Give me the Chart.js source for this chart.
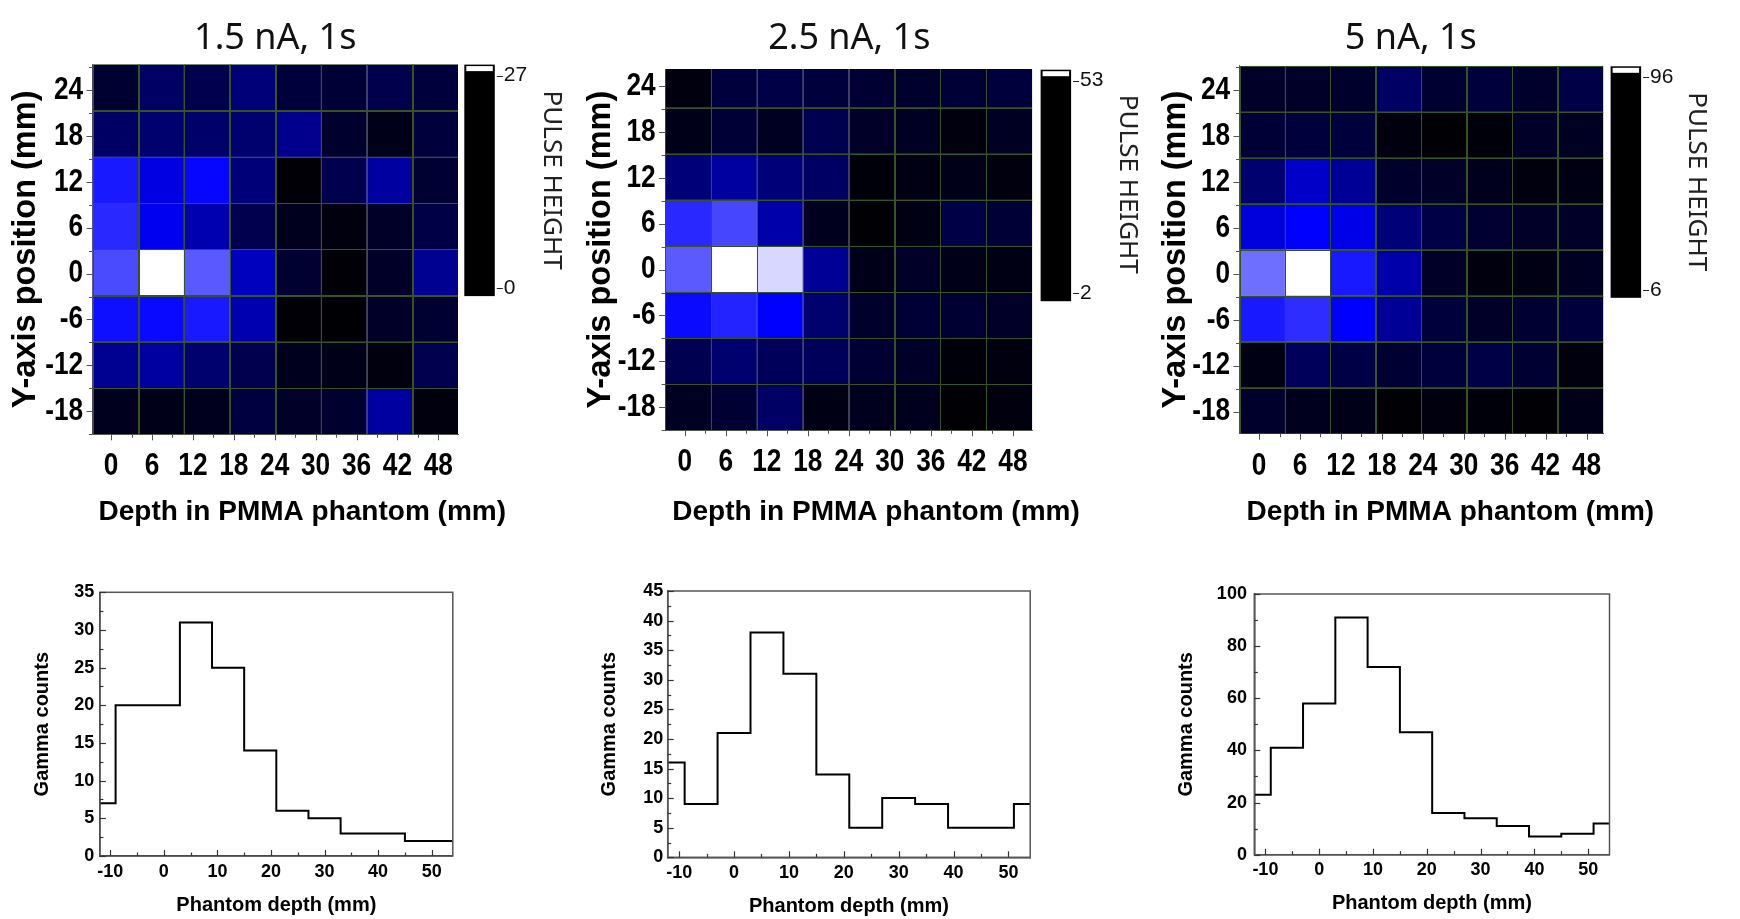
<!DOCTYPE html>
<html><head><meta charset="utf-8">
<script src="https://cdn.jsdelivr.net/npm/chart.js@4.4.1/dist/chart.umd.min.js"></script>
<style>
html,body{margin:0;padding:0;background:#fff;}
body{width:1740px;height:919px;position:relative;overflow:hidden;}
canvas{position:absolute;}
</style></head><body>
<canvas id="hm1" width="580" height="540" style="left:0;top:0"></canvas>
<canvas id="hm2" width="580" height="540" style="left:580px;top:0"></canvas>
<canvas id="hm3" width="580" height="540" style="left:1160px;top:0"></canvas>
<canvas id="h1" width="580" height="379" style="left:0;top:540px"></canvas>
<canvas id="h2" width="580" height="379" style="left:580px;top:540px"></canvas>
<canvas id="h3" width="580" height="379" style="left:1160px;top:540px"></canvas>
<script>
// ---------- data ----------
const heatTitles = ['1.5 nA, 1s', '2.5 nA, 1s', '5 nA, 1s'];
const depthTicks = [0, 6, 12, 18, 24, 30, 36, 42, 48];
const yPosTicks = [24, 18, 12, 6, 0, -6, -12, -18];

// pulse height maps, rows from y=24 (top) to y=-18 (bottom), columns along depth
const pulse15nA = [
  [2.6, 5.3, 4.2, 6.4, 3.2, 2.9, 4.0, 3.2],
  [5.3, 5.8, 5.6, 5.8, 7.4, 2.4, 1.3, 3.2],
  [14.8, 12.0, 13.8, 6.4, 0.3, 4.0, 8.5, 2.6],
  [15.6, 12.7, 9.3, 4.2, 1.6, 0.8, 2.1, 3.7],
  [17.4, 27.0, 18.2, 10.1, 2.6, 0.3, 2.1, 7.7],
  [14.3, 14.0, 14.8, 9.3, 0.3, 0.2, 2.1, 2.6],
  [7.7, 8.5, 5.8, 4.2, 1.6, 1.3, 0.8, 4.2],
  [1.6, 1.3, 1.6, 3.4, 2.1, 2.5, 8.5, 0.8]
];
const pulse25nA = [
  [3.5, 8, 9, 8, 7, 6.5, 7.5, 8],
  [4.5, 7.5, 5.5, 10, 6, 5.5, 3.5, 5.5],
  [14, 18, 14, 12, 3, 4, 4.5, 3.5],
  [31.5, 34.5, 19, 5, 2.5, 4, 9, 7.5],
  [36.5, 53, 49, 17, 4.5, 6, 4.5, 4],
  [28.5, 31, 27.5, 13, 6.5, 7.5, 7, 6],
  [10, 13, 11, 11, 7, 6, 3, 3.5],
  [5.5, 7, 12, 4, 5, 5, 2.5, 3.5]
];
const pulse5nA = [
  [13.1, 13.1, 13.9, 23.6, 14.8, 16.6, 13.9, 18.4],
  [15.7, 16.6, 16.6, 8.6, 6.9, 7.8, 13.1, 12.2],
  [25.4, 41.3, 32.5, 13.9, 13.1, 11.3, 8.6, 9.5],
  [44.8, 51, 46.6, 27.2, 18.4, 14.8, 13.1, 13.1],
  [70.4, 96, 55.4, 36, 13.1, 8.6, 9.5, 12.2],
  [55.4, 59, 51, 32.5, 16.6, 13.1, 14.8, 16.6],
  [9.5, 21.9, 18.4, 14.8, 16.6, 18.4, 14.8, 8.6],
  [13.9, 11.3, 10.4, 6.9, 8.6, 7.8, 6.9, 10.4]
];
const pulseRange15nA = [0, 27];
const pulseRange25nA = [2, 53];
const pulseRange5nA = [6, 96];

const histDepth = [-12, -6, 0, 6, 12, 18, 24, 30, 36, 42, 48, 54];
const gamma15nA = [7, 20, 20, 31, 25, 14, 6, 5, 3, 3, 2, 2];
const gamma25nA = [16, 9, 21, 38, 31, 14, 5, 10, 9, 5, 5, 9];
const gamma5nA = [23, 41, 58, 91, 72, 47, 16, 14, 11, 7, 8, 12];
const histDepthTicks = [-10, 0, 10, 20, 30, 40, 50];
const gammaTicks15nA = [0, 5, 10, 15, 20, 25, 30, 35];
const gammaTicks25nA = [0, 5, 10, 15, 20, 25, 30, 35, 40, 45];
const gammaTicks5nA = [0, 20, 40, 60, 80, 100];

// ---------- fonts ----------
const SANS = "'Liberation Sans', Arial, sans-serif";
const NARROW = "'Liberation Sans Narrow', 'Arial Narrow', 'Liberation Sans', sans-serif";
const TITLEF = "'Noto Sans', 'Open Sans', sans-serif";

function cellColor(v, lo, hi) {
  let t = (v - lo) / (hi - lo);
  t = Math.max(0, Math.min(1, t));
  if (t <= 0.5) return 'rgb(0,0,' + Math.round(510 * t) + ')';
  const w = Math.round(510 * (t - 0.5));
  return 'rgb(' + w + ',' + w + ',255)';
}

// ---------- plugins ----------
const heatCells = {
  id: 'heatCells',
  beforeDatasetsDraw(chart, args, o) {
    const ctx = chart.ctx, ca = chart.chartArea;
    const xs = chart.scales.x, ys = chart.scales.y;
    const data = chart.data.datasets[0].data;
    ctx.save();
    ctx.beginPath();
    ctx.rect(ca.left, ca.top, ca.right - ca.left, ca.bottom - ca.top);
    ctx.clip();
    const rects = data.map(c => {
      const x0 = xs.getPixelForValue(c.x - o.w / 2), x1 = xs.getPixelForValue(c.x + o.w / 2);
      const y0 = ys.getPixelForValue(c.y + o.h / 2), y1 = ys.getPixelForValue(c.y - o.h / 2);
      return {x0, x1, y0, y1, v: c.v};
    });
    rects.forEach(r => {
      ctx.fillStyle = cellColor(r.v, o.range[0], o.range[1]);
      ctx.fillRect(r.x0, r.y0, r.x1 - r.x0, r.y1 - r.y0);
    });
    ctx.strokeStyle = o.gridColor;
    ctx.lineWidth = 1;
    rects.forEach(r => {
      ctx.strokeRect(Math.round(r.x0) + 0.5, Math.round(r.y0) + 0.5, Math.round(r.x1 - r.x0), Math.round(r.y1 - r.y0));
    });
    ctx.restore();
  }
};

const colorBar = {
  id: 'colorBar',
  afterDraw(chart, args, o) {
    if (!o.range) return;
    const ctx = chart.ctx, ca = chart.chartArea;
    const x = ca.right + o.dx, y = ca.top + o.dy, w = o.w, h = o.h;
    ctx.save();
    ctx.fillStyle = '#000';
    ctx.fillRect(x, y, w, h);
    ctx.fillStyle = '#fff';
    ctx.fillRect(x + 2, y + 1.5, w - 4, 5);
    ctx.strokeStyle = '#222';
    ctx.lineWidth = 1;
    ctx.font = o.font;
    ctx.fillStyle = '#111';
    ctx.textBaseline = 'middle';
    ctx.textAlign = 'left';
    [[o.range[1], o.hiY], [o.range[0], o.loY]].forEach(([val, yy]) => {
      ctx.beginPath();
      ctx.moveTo(x + w + 2, Math.round(y + yy) + 0.5);
      ctx.lineTo(x + w + 8, Math.round(y + yy) + 0.5);
      ctx.stroke();
      ctx.fillText(String(val), x + w + 9, y + yy);
    });
    ctx.restore();
  }
};

const panelText = {
  id: 'panelText',
  afterDraw(chart, args, o) {
    if (!o.items) return;
    const ctx = chart.ctx, ca = chart.chartArea;
    o.items.forEach(it => {
      ctx.save();
      ctx.font = it.font;
      ctx.fillStyle = it.color || '#000';
      ctx.textAlign = 'center';
      ctx.textBaseline = 'middle';
      const x = (it.ax === 'right' ? ca.right : (ca.left + ca.right) / 2) + (it.dx || 0);
      const y = (it.ay === 'bottom' ? ca.bottom : ca.top) + (it.dy || 0);
      ctx.translate(x, y);
      if (it.rot) ctx.rotate(it.rot);
      ctx.fillText(it.text, 0, 0);
      ctx.restore();
    });
  }
};

// tick labels of the heat-map axes, drawn from the scales' own ticks in a condensed face
const squeezeLabels = {
  id: 'squeezeLabels',
  afterDraw(chart, args, o) {
    if (!o.font) return;
    const ctx = chart.ctx, ca = chart.chartArea;
    const xs = chart.scales.x, ys = chart.scales.y;
    ctx.save();
    ctx.font = o.font;
    ctx.fillStyle = '#000';
    ctx.textBaseline = 'middle';
    xs.ticks.forEach(t => {
      ctx.save();
      ctx.translate(xs.getPixelForValue(t.value), ca.bottom + o.xOff);
      ctx.scale(o.sx, 1);
      ctx.textAlign = 'center';
      ctx.fillText(t.label, 0, 0);
      ctx.restore();
    });
    ys.ticks.forEach(t => {
      ctx.save();
      ctx.translate(ca.left - o.yOff, ys.getPixelForValue(t.value));
      ctx.scale(o.sx, 1);
      ctx.textAlign = 'right';
      ctx.fillText(t.label, 0, 0);
      ctx.restore();
    });
    ctx.restore();
  }
};

const tickMarks = {
  id: 'tickMarks',
  afterDraw(chart, args, o) {
    if (!o.axes) return;
    const ctx = chart.ctx, ca = chart.chartArea;
    ctx.save();
    if (o.frame) {
      ctx.strokeStyle = o.frameColor;
      ctx.lineWidth = o.frameWidth;
      ctx.strokeRect(ca.left, ca.top, ca.right - ca.left, ca.bottom - ca.top);
    }
    ctx.strokeStyle = o.color;
    ctx.lineWidth = o.width;
    o.axes.forEach(a => {
      const s = chart.scales[a.id];
      const majors = s.ticks.map(t => t.value);
      const minors = [];
      for (let v = Math.ceil(s.min / a.minorStep - 1e-9) * a.minorStep; v <= s.max + 1e-9; v += a.minorStep) {
        if (!majors.some(m => Math.abs(m - v) < 1e-6)) minors.push(v);
      }
      const draw = (v, len) => {
        const p = Math.round(s.getPixelForValue(v)) + 0.5;
        ctx.beginPath();
        if (a.id === 'x') {
          ctx.moveTo(p, ca.bottom);
          ctx.lineTo(p, ca.bottom + (o.inward ? -len : len));
        } else {
          ctx.moveTo(ca.left, p);
          ctx.lineTo(ca.left + (o.inward ? len : -len), p);
        }
        ctx.stroke();
      };
      majors.forEach(v => draw(v, o.major));
      minors.forEach(v => draw(v, o.minor));
    });
    ctx.restore();
  }
};

// ---------- heat map panels ----------
function heatChart(id, grid, range, title, g) {
  const W = 580, H = 540;
  const nC = grid[0].length, nR = grid.length;
  const colW = (g.xMax - g.xMin) / nC;
  const cells = [];
  grid.forEach((row, r) => row.forEach((v, c) => {
    cells.push({x: g.xMin + (c + 0.5) * colW, y: g.yMin + (nR - 1 - r + 0.5) * g.rowH, v: v});
  }));
  const yTicksAsc = yPosTicks.slice().sort((a, b) => a - b);
  new Chart(document.getElementById(id), {
    type: 'scatter',
    data: {datasets: [{data: cells, pointRadius: 0, pointHoverRadius: 0}]},
    options: {
      responsive: false, animation: false, events: [],
      layout: {padding: {left: 0, top: g.top, right: W - g.right, bottom: 0}},
      plugins: {
        legend: {display: false}, tooltip: {enabled: false},
        heatCells: {range: range, w: colW, h: g.rowH, gridColor: '#37531f'},
        colorBar: {range: range, dx: g.cbDx, dy: g.cbDy, w: 30.5, h: 231.5, hiY: 11, loY: 223.5, font: '21px ' + NARROW},
        squeezeLabels: {font: 'bold 32px ' + SANS, sx: 0.82, xOff: 32, yOff: 9.4},
        panelText: {items: [
          {text: title, font: '36px ' + TITLEF, ax: 'center', ay: 'top', dx: g.titleDx, dy: g.titleDy, color: '#111'},
          {text: 'Depth in PMMA phantom (mm)', font: 'bold 28px ' + SANS, ax: 'center', ay: 'bottom', dx: g.xtDx, dy: g.xtDy},
          {text: 'PULSE HEIGHT', font: '26px ' + TITLEF, ax: 'right', ay: 'top', dx: g.phDx, dy: g.phDy, rot: Math.PI / 2, color: '#222'}
        ]},
        tickMarks: {inward: false, major: 6, minor: 3.5, color: '#555', width: 1,
          axes: [{id: 'x', minorStep: 3}, {id: 'y', minorStep: 3}]}
      },
      scales: {
        x: {
          type: 'linear', position: 'bottom', min: g.xMin, max: g.xMax,
          afterBuildTicks: s => { s.ticks = depthTicks.map(v => ({value: v})); },
          afterFit: s => { s.height = H - g.bottom; },
          grid: {display: false, drawTicks: false},
          border: {display: true, color: '#666', width: 1},
          ticks: {display: false, autoSkip: false, maxRotation: 0}
        },
        y: {
          type: 'linear', position: 'left', min: g.yMin, max: g.yMax,
          afterBuildTicks: s => { s.ticks = yTicksAsc.map(v => ({value: v})); },
          afterFit: s => { s.width = g.left; },
          grid: {display: false, drawTicks: false},
          border: {display: true, color: '#666', width: 1},
          ticks: {display: false, autoSkip: false},
          title: {display: true, text: 'Y-axis position (mm)', color: '#000',
            font: {family: SANS, size: 32.5, weight: 'bold', lineHeight: 1},
            padding: {top: g.yTitlePad, bottom: 0}}
        }
      }
    },
    plugins: [heatCells, colorBar, squeezeLabels, panelText, tickMarks]
  });
}

heatChart('hm1', pulse15nA, pulseRange15nA, heatTitles[0], {
  xMin: -2.72, xMax: 50.88, yMin: -21.0, yMax: 27.3, rowH: 6.04,
  left: 92.5, top: 64.6, right: 458, bottom: 434.3,
  yTitlePad: 10,
  titleDx: 0, titleDy: -25.6, xtDx: 27, xtDy: 77.7,
  cbDx: 6.3, cbDy: 0, phDx: 93, phDy: 115.5
});
heatChart('hm2', pulse25nA, pulseRange25nA, heatTitles[1], {
  xMin: -2.87, xMax: 50.81, yMin: -21.0, yMax: 26.2, rowH: 6.02,
  left: 85.1, top: 69, right: 452.1, bottom: 430.3,
  yTitlePad: 5,
  titleDx: 0.7, titleDy: -30, xtDx: 27.4, xtDy: 81.7,
  cbDx: 8.5, cbDy: 0.7, phDx: 95.4, phDy: 115.3
});
heatChart('hm3', pulse5nA, pulseRange5nA, heatTitles[2], {
  xMin: -2.87, xMax: 50.44, yMin: -20.9, yMax: 27.2, rowH: 6.01,
  left: 79.5, top: 65.7, right: 443.2, bottom: 433.7,
  yTitlePad: 0,
  titleDx: -10.6, titleDy: -26.7, xtDx: 29, xtDy: 78.3,
  cbDx: 7.4, cbDy: 0.6, phDx: 93.2, phDy: 116
});

// ---------- histogram panels ----------
function histChart(id, counts, yTicks, g) {
  const W = 580, H = 379;
  new Chart(document.getElementById(id), {
    type: 'line',
    data: {datasets: [{
      data: histDepth.map((x, i) => ({x: x, y: counts[i]})),
      stepped: 'middle', borderColor: '#000', borderWidth: 2, pointRadius: 0, fill: false
    }]},
    options: {
      responsive: false, animation: false, events: [],
      layout: {padding: {left: 0, top: g.top, right: W - g.right, bottom: 0}},
      plugins: {
        legend: {display: false}, tooltip: {enabled: false},
        tickMarks: {inward: true, major: 6, minor: 3.5, color: '#333', width: 1.2,
          frame: true, frameColor: '#555', frameWidth: 1.5,
          axes: [{id: 'x', minorStep: 5}, {id: 'y', minorStep: g.yMinor}]}
      },
      scales: {
        x: {
          type: 'linear', position: 'bottom', min: g.xMin, max: g.xMax,
          afterBuildTicks: s => { s.ticks = histDepthTicks.map(v => ({value: v})); },
          afterFit: s => { s.height = H - g.bottom; },
          grid: {display: false, drawTicks: false},
          border: {display: true, color: '#333', width: 1.5},
          ticks: {padding: g.xLabPad, color: '#000', autoSkip: false, maxRotation: 0,
            font: {family: SANS, size: 18, weight: 'bold', lineHeight: 1}},
          title: {display: true, text: 'Phantom depth (mm)', color: '#000',
            font: {family: SANS, size: 20, weight: 'bold', lineHeight: 1},
            padding: {top: 0, bottom: g.xTitlePadB}}
        },
        y: {
          type: 'linear', position: 'left', min: 0, max: yTicks[yTicks.length - 1],
          afterBuildTicks: s => { s.ticks = yTicks.map(v => ({value: v})); },
          afterFit: s => { s.width = g.left; },
          grid: {display: false, drawTicks: false},
          border: {display: true, color: '#333', width: 1.5},
          ticks: {padding: g.yLabPad, color: '#000', autoSkip: false,
            font: {family: SANS, size: 18, weight: 'bold', lineHeight: 1}},
          title: {display: true, text: 'Gamma counts', color: '#000',
            font: {family: SANS, size: 20, weight: 'bold', lineHeight: 1},
            padding: {top: g.yTitlePad, bottom: 0}}
        }
      }
    },
    plugins: [tickMarks]
  });
}

histChart('h1', gamma15nA, gammaTicks15nA, {
  xMin: -11.93, xMax: 53.94, yMinor: 2.5,
  left: 99.9, top: 52.3, right: 452.8, bottom: 316,
  yLabPad: 5.6, xLabPad: 6.7, yTitlePad: 32.5, xTitlePadB: 4
});
histChart('h2', gamma25nA, gammaTicks25nA, {
  xMin: -12.09, xMax: 53.97, yMinor: 2.5,
  left: 87.7, top: 51, right: 450.2, bottom: 317.3,
  yLabPad: 4.5, xLabPad: 7, yTitlePad: 19.6, xTitlePadB: 2.3
});
histChart('h3', gamma5nA, gammaTicks5nA, {
  xMin: -12.06, xMax: 53.96, yMinor: 10,
  left: 94.3, top: 54, right: 449.5, bottom: 314.7,
  yLabPad: 7.4, xLabPad: 6.3, yTitlePad: 16.6, xTitlePadB: 5.7
});
</script>
</body></html>
